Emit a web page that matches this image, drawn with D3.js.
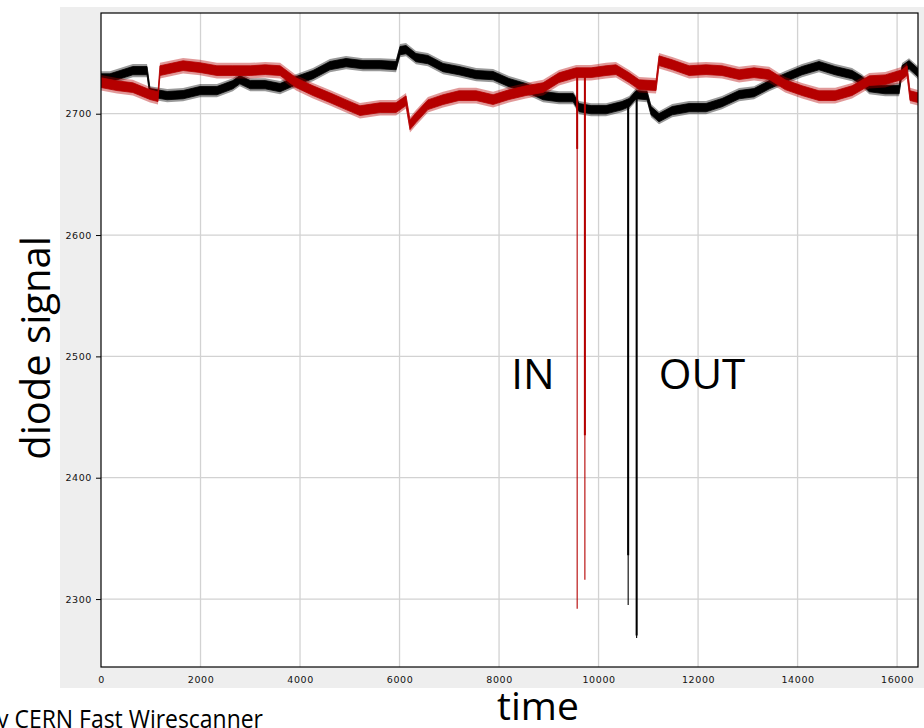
<!DOCTYPE html>
<html>
<head>
    <title>Diode signal</title>
    <style>
        body { margin: 0; background: #fff; overflow: hidden; }
        .tick text { font-family: "DejaVu Sans", sans-serif; font-size: 9.5px; letter-spacing: 0.6px; fill: #111; }
        .big { font-family: "Open Sans", sans-serif; fill: #000; }
    </style>
</head>
<body>
<svg id="chart" width="924" height="728"></svg>

<script src="https://cdn.jsdelivr.net/npm/d3@7"></script>
<script>
    // black trace (time, signal)
    const blackTime = [0, 180, 640, 925, 985, 1330, 1650, 1990, 2330, 2650, 2790, 3000, 3300, 3600, 3920, 4260,
        4600, 4925, 5265, 5610, 5930, 6010, 6130, 6330, 6570, 6875, 7195, 7540, 7880, 8200, 8540, 8885, 9205,
        9490, 9610, 9850, 10150, 10470, 10615, 10755, 10975, 11055, 11215, 11480, 11820, 12160, 12480, 12825,
        13125, 13430, 13750, 14090, 14430, 14755, 15095, 15295, 15440, 15760, 16040, 16100, 16240, 16420];
    const blackSignal = [2729.5, 2729.5, 2735.5, 2735.5, 2717.3, 2714.9, 2715.7, 2719, 2719, 2723.9, 2728, 2723.9,
        2723.9, 2721.5, 2727.2, 2732.2, 2739.6, 2742.1, 2740.4, 2740.4, 2739.6, 2752, 2752.8, 2746.2, 2744.6,
        2738, 2735.5, 2732.2, 2731.4, 2725.6, 2721.5, 2714.9, 2713.2, 2713.2, 2705, 2703.3, 2703.3, 2706.6,
        2709.1, 2715.7, 2714.9, 2702.5, 2696.7, 2702.5, 2705, 2705, 2709.1, 2715.7, 2717.3, 2723.9, 2729.7,
        2735.5, 2739.6, 2735.5, 2732.2, 2727.2, 2721.5, 2719.8, 2719.8, 2736.3, 2740.4, 2733.8];

    // red trace
    const redTime = [0, 320, 640, 985, 1145, 1185, 1650, 1990, 2330, 2650, 3000, 3300, 3600, 3920, 4260, 4600,
        4925, 5205, 5610, 5930, 6130, 6210, 6330, 6570, 6875, 7195, 7540, 7880, 8200, 8540, 8885, 9205, 9550,
        9850, 10150, 10350, 10615, 10815, 11155, 11215, 11480, 11820, 12160, 12480, 12825, 13125, 13430, 13750,
        14090, 14430, 14755, 15095, 15440, 15760, 16100, 16200, 16260, 16420];
    const redSignal = [2725.6, 2723.1, 2721.5, 2715.7, 2714, 2735.5, 2739.6, 2738, 2735.5, 2735.5, 2735.5, 2736.3,
        2735.5, 2725.6, 2719, 2713.2, 2707.4, 2702.5, 2705, 2705, 2710.7, 2690.9, 2696.7, 2707.4, 2711.6,
        2714.9, 2714.9, 2711.6, 2715.7, 2719, 2721.5, 2729.7, 2733.8, 2733.8, 2735.5, 2736.3, 2729.7, 2723.9,
        2723.1, 2743.7, 2740.4, 2735.5, 2736.3, 2735.5, 2732.2, 2733.8, 2732.2, 2723.9, 2719, 2714.9, 2714.9,
        2719, 2727.2, 2728, 2732.2, 2735.5, 2714.9, 2713.2];

    // wire crossings: time, dense part of the dip, lowest value
    const redSpikeTime = [9570, 9725];
    const redSpikeCore = [2671, 2435];
    const redSpikeMin = [2292, 2316];
    const blackSpikeTime = [10595, 10765];
    const blackSpikeCore = [2336, 2270];
    const blackSpikeMin = [2295, 2268];

    // noise half-width of each trace (dense core / outer fringe), in signal units
    const blackNoise = [3.4, 5.4];
    const redNoise = [4, 6.4];

    const xTicks = [0, 2000, 4000, 6000, 8000, 10000, 12000, 14000, 16000];
    const yTicks = [2300, 2400, 2500, 2600, 2700];

    const svg = d3.select('#chart');
    const plotL = 101, plotR = 918, plotT = 13, plotB = 667;

    const x = d3.scaleLinear().domain([0, 16420]).range([plotL, plotR]);
    const y = d3.scaleLinear().domain([2244, 2783]).range([plotB, plotT]);

    // grey panel + white plot
    svg.append('rect').attr('x', 60).attr('y', 7).attr('width', 864).attr('height', 681).attr('fill', '#eeeeee');
    svg.append('rect').attr('x', plotL).attr('y', plotT).attr('width', plotR - plotL).attr('height', plotB - plotT).attr('fill', '#fff');

    // grid
    const grid = svg.append('g').attr('stroke', '#d2d2d2').attr('stroke-width', 1.3);
    grid.selectAll('.gx').data(xTicks.slice(1)).enter().append('line')
        .attr('x1', d => x(d)).attr('x2', d => x(d)).attr('y1', plotT).attr('y2', plotB);
    grid.selectAll('.gy').data(yTicks).enter().append('line')
        .attr('x1', plotL).attr('x2', plotR).attr('y1', d => y(d)).attr('y2', d => y(d));

    svg.append('clipPath').attr('id', 'clip').append('rect')
        .attr('x', plotL).attr('y', plotT).attr('width', plotR - plotL).attr('height', plotB - plotT);
    const plot = svg.append('g').attr('clip-path', 'url(#clip)');

    function drawTrace(times, values, noise, color) {
        const pts = times.map((t, i) => [t, values[i]]);
        // fringe first, then the dense core
        const fringe = d3.area().x(d => x(d[0])).y0(d => y(d[1] - noise[1])).y1(d => y(d[1] + noise[1]));
        plot.append('path').datum(pts).attr('d', fringe).attr('fill', color).attr('opacity', 0.4);
        const core = d3.area().x(d => x(d[0])).y0(d => y(d[1] - noise[0])).y1(d => y(d[1] + noise[0]));
        plot.append('path').datum(pts).attr('d', core).attr('fill', color).attr('stroke', color).attr('stroke-width', 0.8);
    }

    function drawSpikes(times, core, mins, trace, traceT, color) {
        times.forEach((t, i) => {
            // start from the trace level at that time
            let j = d3.bisectLeft(traceT, t);
            j = Math.min(j, trace.length - 1);
            const start = trace[j];
            plot.append('line').attr('x1', x(t)).attr('x2', x(t))
                .attr('y1', y(start)).attr('y2', y(core[i]))
                .attr('stroke', color).attr('stroke-width', 2);
            plot.append('line').attr('x1', x(t)).attr('x2', x(t))
                .attr('y1', y(start)).attr('y2', y(mins[i]))
                .attr('stroke', color).attr('stroke-width', 1.1);
        });
    }

    drawTrace(blackTime, blackSignal, blackNoise, '#000');
    drawTrace(redTime, redSignal, redNoise, '#b50000');
    drawSpikes(redSpikeTime, redSpikeCore, redSpikeMin, redSignal, redTime, '#b50000');
    drawSpikes(blackSpikeTime, blackSpikeCore, blackSpikeMin, blackSignal, blackTime, '#000');

    // axes
    const xAxis = d3.axisBottom(x).tickValues(xTicks).tickFormat(d3.format('d')).tickSize(0).tickPadding(9);
    svg.append('g').attr('transform', `translate(0,${plotB})`).call(xAxis)
        .call(g => g.select('.domain').remove());
    const yAxis = d3.axisLeft(y).tickValues(yTicks).tickFormat(d3.format('d')).tickSize(5).tickPadding(4);
    svg.append('g').attr('transform', `translate(${plotL},0)`).call(yAxis)
        .call(g => g.select('.domain').remove())
        .call(g => g.selectAll('.tick line').attr('stroke', '#000'));

    svg.append('rect').attr('x', plotL).attr('y', plotT).attr('width', plotR - plotL).attr('height', plotB - plotT)
        .attr('fill', 'none').attr('stroke', '#000').attr('stroke-width', 1.2);

    // labels
    svg.append('text').attr('class', 'big').attr('transform', 'translate(50,348) rotate(-90)')
        .attr('text-anchor', 'middle').attr('font-size', 40).text('diode signal');
    svg.append('text').attr('class', 'big').attr('x', 538).attr('y', 720)
        .attr('text-anchor', 'middle').attr('font-size', 39).text('time');
    svg.append('text').attr('class', 'big').attr('x', 533).attr('y', 389)
        .attr('text-anchor', 'middle').attr('font-size', 42).text('IN');
    svg.append('text').attr('class', 'big').attr('x', 702).attr('y', 389)
        .attr('text-anchor', 'middle').attr('font-size', 42).text('OUT');
    svg.append('text').attr('class', 'big').attr('x', 263).attr('y', 728)
        .attr('text-anchor', 'end').attr('font-size', 26).attr('fill', '#808080')
        .attr('textLength', 280).attr('lengthAdjust', 'spacingAndGlyphs')
        .text('by CERN Fast Wirescanner');
</script>
</body>
</html>
